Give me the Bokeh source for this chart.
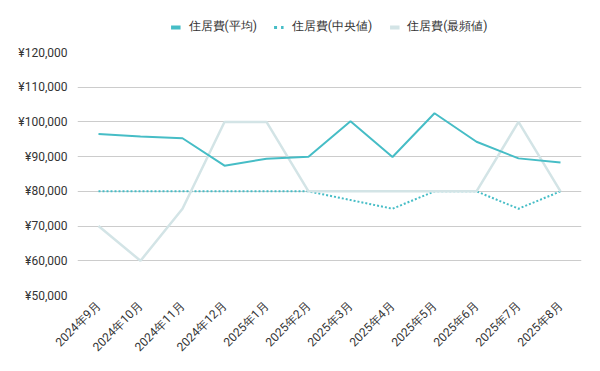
from math import pi
from bokeh.plotting import figure
from bokeh.layouts import column
from bokeh.models import FactorRange, Range1d, FixedTicker, Legend, LegendItem
from bokeh.embed import file_html
from bokeh.resources import INLINE

months = ["2024年9月", "2024年10月", "2024年11月", "2024年12月", "2025年1月", "2025年2月",
          "2025年3月", "2025年4月", "2025年5月", "2025年6月", "2025年7月", "2025年8月"]
mean_vals = [96500, 95800, 95300, 87400, 89400, 90000, 100200, 89900, 102500, 94300, 89500, 88300]
median_vals = [80000, 80000, 80000, 80000, 80000, 80000, 77500, 75000, 80000, 80000, 75000, 80000]
mode_vals = [70000, 60000, 75000, 100000, 100000, 80000, 80000, 80000, 80000, 80000, 100000, 80000]
y_ticks = [50000, 60000, 70000, 80000, 90000, 100000, 110000, 120000]
y_tick_labels = ["¥50,000", "¥60,000", "¥70,000", "¥80,000", "¥90,000", "¥100,000", "¥110,000", "¥120,000"]
series_names = ["住居費(平均)", "住居費(中央値)", "住居費(最頻値)"]

FONT = "Roboto"
MEAN_C = "#46bdc6"
MODE_C = "#d3e4e6"

# main chart
p = figure(x_range=FactorRange(*months), y_range=Range1d(50000, 120000),
           frame_width=504, frame_height=243, output_backend="svg", toolbar_location=None,
           min_border_left=77, min_border_right=19, min_border_top=8, min_border_bottom=10)
p.outline_line_color = None

p.line(months, median_vals, line_color=MEAN_C, line_width=2, line_dash="2 2")
p.line(months, mode_vals, line_color=MODE_C, line_width=2.5)
p.line(months, mean_vals, line_color=MEAN_C, line_width=2)

p.yaxis.ticker = FixedTicker(ticks=y_ticks)
p.yaxis.major_label_overrides = {t: l for t, l in zip(y_ticks, y_tick_labels)}
for ax in (p.xaxis[0], p.yaxis[0]):
    ax.axis_line_color = None
    ax.major_tick_line_color = None
    ax.minor_tick_line_color = None
    ax.major_label_text_font = FONT
    ax.major_label_text_font_size = "12px"
    ax.major_label_text_color = "#333333"
p.yaxis.major_label_standoff = 4
p.xaxis.major_label_orientation = pi / 4
p.xaxis.major_label_standoff = 2
p.xgrid.grid_line_color = None
p.ygrid.grid_line_color = "#cccccc"
p.ygrid.grid_line_width = 1

# legend strip (its lines use the series data but lie outside its visible range)
lg = figure(width=600, height=44, x_range=Range1d(0, 1), y_range=Range1d(0, 1),
            output_backend="svg", toolbar_location=None,
            min_border_left=0, min_border_right=0, min_border_top=0, min_border_bottom=0)
lg.axis.visible = False
lg.grid.visible = False
lg.outline_line_color = None
idx = list(range(len(months)))
d_mean = lg.line(x=idx, y=mean_vals, line_color=MEAN_C, line_width=4)
d_med = lg.line(x=idx, y=median_vals, line_color=MEAN_C, line_width=3, line_dash="3 4")
d_mode = lg.line(x=idx, y=mode_vals, line_color=MODE_C, line_width=4)

legend = Legend(items=[LegendItem(label=series_names[0], renderers=[d_mean]),
                       LegendItem(label=series_names[1], renderers=[d_med]),
                       LegendItem(label=series_names[2], renderers=[d_mode])],
                orientation="horizontal", location="bottom_center",
                label_text_font=FONT, label_text_font_size="12px", label_text_color="#333333",
                glyph_width=10, glyph_height=10, spacing=17, label_standoff=8,
                border_line_color=None, background_fill_alpha=0, padding=0, margin=9)
lg.add_layout(legend)

layout = column(lg, p, spacing=0)
open("out.html", "w").write(file_html(layout, INLINE))
